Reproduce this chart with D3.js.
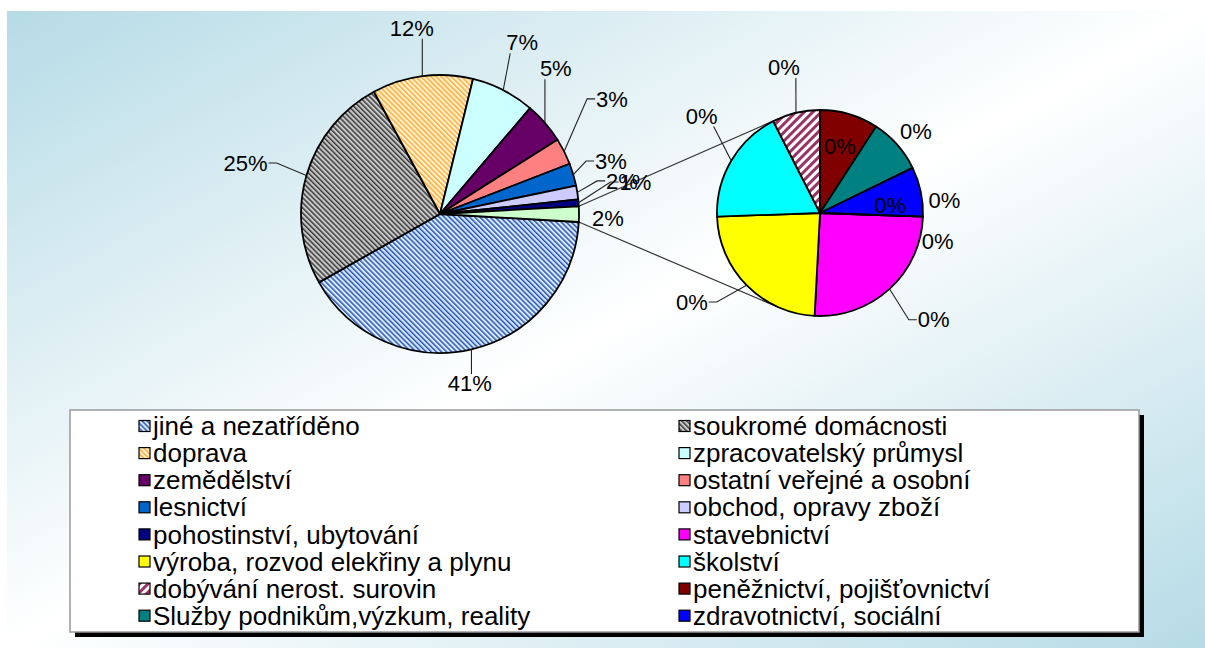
<!DOCTYPE html>
<html>
<head>
<meta charset="utf-8">
<script src="https://cdn.jsdelivr.net/npm/d3@7"></script>
<style>
  body { margin: 0; background: #fff; }
  text { font-family: "Liberation Sans", Arial, sans-serif; fill: #000; }
</style>
</head>
<body>
<div id="chart"></div>
<script>
// primary pie (percent of total)
const mainNames = ["jiné a nezatříděno", "soukromé domácnosti", "doprava", "zpracovatelský průmysl",
  "zemědělství", "ostatní veřejné a osobní", "lesnictví", "obchod, opravy zboží", "pohostinství, ubytování"];
const mainValues = [40.9, 25.3, 11.7, 7.4, 4.8, 3.1, 2.6, 1.6, 0.8];
// secondary pie, split out of the "other" slice (two unnamed zero points at its ends)
const otherNames = ["", "stavebnictví", "výroba, rozvod elekřiny a plynu", "školství", "dobývání nerost. surovin",
  "peněžnictví, pojišťovnictví", "Služby podnikům,výzkum, reality", "zdravotnictví, sociální", ""];
const otherValues = [0, 0.455, 0.425, 0.325, 0.135, 0.165, 0.155, 0.14, 0];

const mainFills = ["url(#pJine)", "url(#pDom)", "url(#pDoprava)", "#ccffff", "#660066",
  "#ff8080", "#0066cc", "#ccccff", "#000080"];
const otherSliceFill = "#ccffcc";
const otherFills = ["#fff", "#ff00ff", "#ffff00", "#00ffff", "url(#pDob)", "#800000", "#008080", "#0000ff", "#fff"];

// label placement: [angle in degrees from 12 o'clock, distance from centre]
const mainLabelPos = [[170, 172], [284.7, 201], [351.4, 188], [25.6, 190], [38.5, 186],
  [56.2, 207], [72.8, 179], [79.7, 185], [80.7, 198], [91.4, 168]];
const mainLeader = [1, 1, 1, 1, 1, 1, 1, 1, 1, 0];
const otherLabelPos = [[103.3, 121], [133.2, 156], [235.2, 156], [309.4, 153], [346.1, 150],
  [16.6, 70], [49.5, 126], [83.5, 70.5], [84, 125]];
const otherLeader = [0, 1, 1, 1, 1, 0, 0, 0, 0];

const width = 1205, height = 648;
const c1 = { x: 440, y: 214, r: 139 };
const c2 = { x: 820, y: 213, r: 103 };
const rad = d => d * Math.PI / 180;

const svg = d3.select("#chart").append("svg")
  .attr("width", width)
  .attr("height", height);

const defs = svg.append("defs");
const grad = defs.append("linearGradient").attr("id", "bg")
  .attr("x1", 0).attr("y1", 0).attr("x2", 1).attr("y2", 1);
grad.append("stop").attr("offset", "0%").attr("stop-color", "#b6dbe6");
grad.append("stop").attr("offset", "50%").attr("stop-color", "#ffffff");
grad.append("stop").attr("offset", "100%").attr("stop-color", "#b6dbe6");

function hatch(id, back, line, size, lw, angle) {
  const p = defs.append("pattern").attr("id", id)
    .attr("patternUnits", "userSpaceOnUse")
    .attr("width", size).attr("height", size)
    .attr("patternTransform", `rotate(${angle})`);
  p.append("rect").attr("width", size).attr("height", size).attr("fill", back);
  p.append("rect").attr("width", lw).attr("height", size).attr("fill", line);
}
hatch("pJine", "#d8e8ff", "#2a58b0", 3.6, 1.5, -45);
hatch("pDom", "#c8c8c8", "#3c3c3c", 3.6, 1.5, -45);
hatch("pDoprava", "#fff2cc", "#ffac40", 3.6, 1.5, -45);
hatch("pDob", "#ffffff", "#993366", 6, 3, 45);

svg.append("rect")
  .attr("x", 7).attr("y", 11)
  .attr("width", width - 7).attr("height", height - 11)
  .attr("fill", "url(#bg)");

const total = d3.sum(mainValues) + d3.sum(otherValues);
const pct = v => Math.round(v / total * 100) + "%";
const pt = (c, a, r) => [c.x + r * Math.sin(a), c.y - r * Math.cos(a)];

// pies
const mainData = mainValues.concat([d3.sum(otherValues)]);
const mainPie = d3.pie().sort(null).value(d => d)
  .startAngle(rad(93.3)).endAngle(rad(93.3 + 360));
const otherPie = d3.pie().sort(null).value(d => d)
  .startAngle(rad(92)).endAngle(rad(92 + 360));
const mainArcs = mainPie(mainData);
const otherArcs = otherPie(otherValues);

// series lines from the "other" slice to the secondary pie (tangent points)
const oth = mainArcs[mainArcs.length - 1];
function tangent(p, c, upper) {
  const dx = p[0] - c.x, dy = p[1] - c.y;
  const d = Math.hypot(dx, dy);
  const phi = Math.atan2(dy, dx), al = Math.acos(c.r / d);
  const a = [phi + al, phi - al].map(t => [c.x + c.r * Math.cos(t), c.y + c.r * Math.sin(t)]);
  a.sort((m, n) => m[1] - n[1]);
  return upper ? a[0] : a[1];
}
const pTop = pt(c1, oth.startAngle, c1.r), pBot = pt(c1, oth.endAngle, c1.r);
[[pTop, tangent(pTop, c2, true)], [pBot, tangent(pBot, c2, false)]].forEach(s => {
  svg.append("line")
    .attr("x1", s[0][0]).attr("y1", s[0][1])
    .attr("x2", s[1][0]).attr("y2", s[1][1])
    .attr("stroke", "#333").attr("stroke-width", 1.2);
});

function drawPie(c, arcs, fills) {
  const arc = d3.arc().innerRadius(0).outerRadius(c.r);
  svg.append("g").attr("transform", `translate(${c.x},${c.y})`)
    .selectAll("path")
    .data(arcs)
    .enter().append("path")
    .attr("d", arc)
    .attr("fill", (d, i) => fills[i])
    .attr("stroke", "#000")
    .attr("stroke-width", 1.8)
    .attr("stroke-linejoin", "round");
}
drawPie(c1, mainArcs, mainFills.concat([otherSliceFill]));
drawPie(c2, otherArcs, otherFills);

const labelLayer = svg.append("g");
function drawLabels(c, arcs, values, place, leaders) {
  arcs.forEach((d, i) => {
    const p = pt(c, rad(place[i][0]), place[i][1]);
    const t = labelLayer.append("text")
      .attr("x", p[0]).attr("y", p[1])
      .attr("dy", "0.35em")
      .attr("text-anchor", "middle")
      .style("font-size", "22px")
      .text(pct(values[i]));
    if (!leaders[i]) return;
    const bb = t.node().getBBox();
    const mid = (d.startAngle + d.endAngle) / 2;
    const a = pt(c, mid, c.r);
    const dx = p[0] - a[0], dy = p[1] - a[1];
    let pts;
    if (Math.abs(dy) > Math.abs(dx) * 1.2) {
      const ex = Math.max(bb.x + 4, Math.min(bb.x + bb.width - 4, a[0]));
      const ey = dy > 0 ? bb.y + 3 : bb.y + bb.height - 2;
      pts = [a, [ex, ey]];
    } else {
      const ex = dx > 0 ? bb.x - 1 : bb.x + bb.width + 1;
      const s = dx > 0 ? -1 : 1;
      pts = [a, [ex + s * 8, p[1]], [ex, p[1]]];
    }
    labelLayer.append("path")
      .attr("d", d3.line()(pts))
      .attr("fill", "none")
      .attr("stroke", "#222")
      .attr("stroke-width", 1.1);
  });
}
drawLabels(c1, mainArcs, mainData, mainLabelPos, mainLeader);
drawLabels(c2, otherArcs, otherValues, otherLabelPos, otherLeader);

// legend
const legendNames = mainNames.concat(otherNames.filter(n => n));
const legendFills = mainFills.concat(otherFills.filter((f, i) => otherNames[i]));
const lg = svg.append("g");
lg.append("rect").attr("x", 75).attr("y", 415).attr("width", 1069).attr("height", 222).attr("fill", "#000");
lg.append("rect").attr("x", 70).attr("y", 410).attr("width", 1069).attr("height", 222)
  .attr("fill", "#fff").attr("stroke", "#999").attr("stroke-width", 1.5);

legendNames.forEach((name, i) => {
  const col = i % 2, row = Math.floor(i / 2);
  const x = 139 + col * 540, y = 426 + row * 27.1;
  lg.append("rect")
    .attr("x", x).attr("y", y - 5.5)
    .attr("width", 11).attr("height", 11)
    .attr("fill", legendFills[i])
    .attr("stroke", "#000").attr("stroke-width", 1.2);
  lg.append("text")
    .attr("x", x + 14).attr("y", y)
    .attr("dy", "0.35em")
    .style("font-size", "26px")
    .text(name);
});
</script>
</body>
</html>
